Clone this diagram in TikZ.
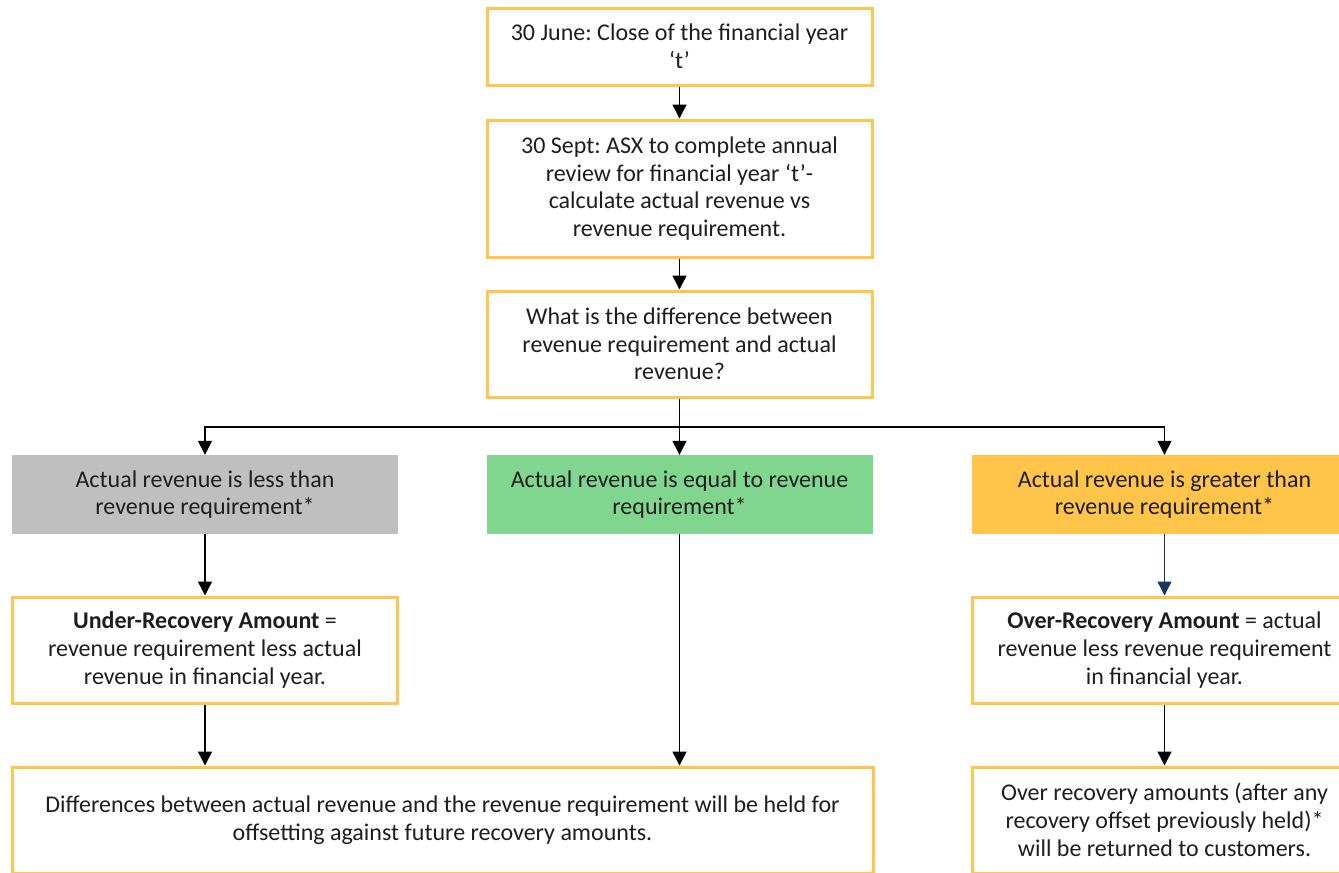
\documentclass[tikz,border=0pt]{standalone}
\usepackage{fontspec}
\setmainfont{Carlito}
\usetikzlibrary{arrows.meta}
\frenchspacing
\definecolor{bord}{HTML}{FFC54F}
\definecolor{grayf}{HTML}{BFBFBF}
\definecolor{greenf}{HTML}{80D68E}
\definecolor{orangef}{HTML}{FFC448}
\definecolor{txt}{HTML}{1E1E1E}
\definecolor{bluearr}{HTML}{17375E}
\tikzset{
  box/.style={draw=bord, line width=3pt, fill=white, align=center, text=txt,
    minimum width=385pt, inner sep=2pt, font=\fontsize{24}{27.7}\selectfont},
  fillbox/.style={draw=none, align=center, text=txt, minimum width=386pt,
    minimum height=79pt, inner sep=2pt, font=\fontsize{24}{27.7}\selectfont},
  arr/.style={line width=1.4pt, -{Triangle[width=14pt,length=14pt]}},
}
\begin{document}
\begin{tikzpicture}[x=1pt,y=-1pt]
\useasboundingbox (0,0) rectangle (1339,873);
\clip (0,0) rectangle (1339,873);
\node[box, minimum height=77pt] (b1) at (679.5,46.5) {30 June: Close of the financial year\\‘t’};
\node[box, minimum height=137pt] (b2) at (679.5,188.5) {30 Sept: ASX to complete annual\\review for financial year ‘t’-\\calculate actual revenue vs\\revenue requirement.};
\node[box, minimum height=106pt] (b3) at (679.5,344) {What is the difference between\\revenue requirement and actual\\revenue?};
\node[fillbox, fill=grayf] (L) at (205,494.5) {Actual revenue is less than\\revenue requirement*};
\node[fillbox, fill=greenf] (M) at (679.5,494.5) {Actual revenue is equal to revenue\\requirement*};
\node[fillbox, fill=orangef] (R) at (1164.5,494.5) {Actual revenue is greater than\\revenue requirement*};
\node[box, minimum height=106pt] (U) at (205,650) {\textbf{Under-Recovery Amount} =\\revenue requirement less actual\\revenue in financial year.};
\node[box, minimum height=106pt] (O) at (1164.5,650) {\textbf{Over-Recovery Amount} = actual\\revenue less revenue requirement\\in financial year.};
\node[box, minimum width=861pt, minimum height=106pt] (D) at (442.5,820) {Differences between actual revenue and the revenue requirement will be held for\\offsetting against future recovery amounts.};
\node[box, minimum height=106pt] (E) at (1164.5,820) {Over recovery amounts (after any\\recovery offset previously held)*\\will be returned to customers.};
\coordinate (h) at (0,427);
\coordinate (split) at (b3.south |- h);
\draw[arr] (b1) -- (b2);
\draw[arr] (b2) -- (b3);
\draw[line width=1.4pt] (b3.south) -- (split);
\draw[arr] (split) -| (L.north);
\draw[arr] (split) -- (split |- M.north);
\draw[arr] (split) -| (R.north);
\draw[arr] (L.south) -- (U.north);
\draw[arr, draw=bluearr, fill=bluearr] (R.south) -- (O.north);
\draw[arr] (U.south) -- (U.south |- D.north);
\draw[arr] (M.south) -- (M.south |- D.north);
\draw[arr] (O.south) -- (E.north);
\end{tikzpicture}
\end{document}
